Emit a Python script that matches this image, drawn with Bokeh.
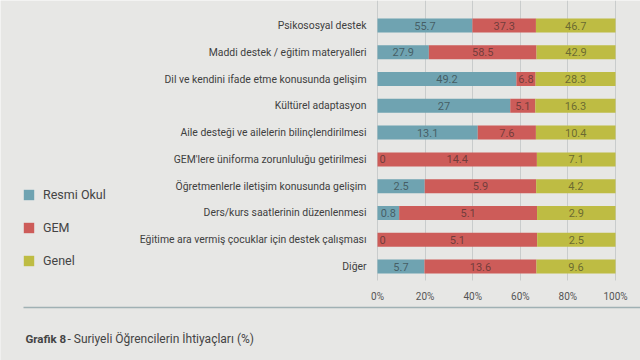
import pandas as pd
from bokeh.plotting import figure
from bokeh.models import (Range1d, Legend, LegendItem, Label, BoxAnnotation,
                          FixedTicker, ColumnDataSource)
from bokeh.core.properties import value
from bokeh.embed import file_html
from bokeh.resources import INLINE

categories = [
    "Psikososyal destek",
    "Maddi destek / eğitim materyalleri",
    "Dil ve kendini ifade etme konusunda gelişim",
    "Kültürel adaptasyon",
    "Aile desteği ve ailelerin bilinçlendirilmesi",
    "GEM'lere üniforma zorunluluğu getirilmesi",
    "Öğretmenlerle iletişim konusunda gelişim",
    "Ders/kurs saatlerinin düzenlenmesi",
    "Eğitime ara vermiş çocuklar için destek çalışması",
    "Diğer",
]
resmi_okul = [55.7, 27.9, 49.2, 27, 13.1, 0, 2.5, 0.8, 0, 5.7]
gem = [37.3, 58.5, 6.8, 5.1, 7.6, 14.4, 5.9, 5.1, 5.1, 13.6]
genel = [46.7, 42.9, 28.3, 16.3, 10.4, 7.1, 4.2, 2.9, 2.5, 9.6]
series_names = ["Resmi Okul", "GEM", "Genel"]
colors = ["#6fa3b1", "#cd5c59", "#bebc43"]
x_ticks = [0, 0.2, 0.4, 0.6, 0.8, 1.0]
x_tick_labels = ["0%", "20%", "40%", "60%", "80%", "100%"]
caption_bold = "Grafik 8"
caption_rest = "- Suriyeli Öğrencilerin İhtiyaçları (%)"

# ---- layout constants (pixels) ----
W, H = 640, 360
X0_PX, X1_PX = 377, 615          # 0% and 100%
TOP_ROW_PX, BOTTOM_ROW_PX = 25, 266
AXIS_PX = 280                    # bottom end of grid / x-axis position
FONT = "Roboto"
BG = "#e7e7e5"

n = len(categories)
xs = X1_PX - X0_PX
pitch = (BOTTOM_ROW_PX - TOP_ROW_PX) / (n - 1)


def xd(px):
    return (px - X0_PX) / xs


def yd(py):
    return (BOTTOM_ROW_PX - py) / pitch


df = pd.DataFrame({"cat": categories, "s0": resmi_okul, "s1": gem, "s2": genel})
df["ypos"] = [n - 1 - i for i in range(n)]
total = df[["s0", "s1", "s2"]].sum(axis=1)
for i in range(3):
    df[f"f{i}"] = df[f"s{i}"] / total
src = ColumnDataSource(df)

p = figure(width=W, height=H, output_backend="svg", toolbar_location=None,
           x_range=Range1d(xd(0), xd(W)), y_range=Range1d(yd(H), yd(0)),
           min_border_left=0, min_border_right=0, min_border_top=0, min_border_bottom=0)
p.background_fill_color = BG
p.border_fill_color = BG
p.outline_line_color = None

renderers = p.hbar_stack(["f0", "f1", "f2"], y="ypos", height=14 / pitch,
                         color=colors, line_color=None, source=src)

# segment labels
lab_nz = {"x": [], "y": [], "t": []}
lab_z = {"x": [], "y": [], "t": []}
for _, row in df.iterrows():
    start = 0.0
    for i in range(3):
        f = row[f"f{i}"]
        v = row[f"s{i}"]
        txt = f"{v:g}"
        if v == 0:
            lab_z["x"].append(start)
            lab_z["y"].append(row["ypos"])
            lab_z["t"].append(txt)
        else:
            lab_nz["x"].append(start + f / 2)
            lab_nz["y"].append(row["ypos"])
            lab_nz["t"].append(txt)
        start += f

p.text(x="x", y="y", text="t", source=ColumnDataSource(lab_nz),
       text_align="center", text_baseline="middle", text_font=value(FONT),
       text_font_size="11px", text_color="#222222", text_alpha=0.55)
p.text(x="x", y="y", text="t", source=ColumnDataSource(lab_z), x_offset=2,
       text_align="left", text_baseline="middle", text_font=value(FONT),
       text_font_size="11px", text_color="#222222", text_alpha=0.55)

# x axis (fixed inside the canvas)
p.xaxis.fixed_location = yd(AXIS_PX)
p.xaxis.ticker = FixedTicker(ticks=x_ticks)
p.xaxis.major_label_overrides = {t: l for t, l in zip(x_ticks, x_tick_labels)}
p.xaxis.axis_line_color = None
p.xaxis.major_tick_line_color = None
p.xaxis.minor_tick_line_color = None
p.xaxis.major_label_text_font = FONT
p.xaxis.major_label_text_font_size = "10px"
p.xaxis.major_label_text_color = "#555555"
p.xaxis.major_label_standoff = 4

# y axis with category names
p.yaxis.fixed_location = 0
p.yaxis.ticker = FixedTicker(ticks=list(df["ypos"]))
p.yaxis.major_label_overrides = {int(y): c for y, c in zip(df["ypos"], categories)}
p.yaxis.axis_line_color = None
p.yaxis.major_tick_line_color = None
p.yaxis.minor_tick_line_color = None
p.yaxis.major_label_text_font = FONT
p.yaxis.major_label_text_font_size = "10.4px"
p.yaxis.major_label_text_color = "#404040"
p.yaxis.major_label_standoff = 5

p.ygrid.grid_line_color = None
p.xgrid.grid_line_color = "#c9cccc"
p.xgrid.grid_line_width = 1

# hide grid below the bars
p.add_layout(BoxAnnotation(top=yd(AXIS_PX), level="underlay", fill_color=BG,
                           fill_alpha=1, line_color=None))

# legend
legend = Legend(items=[LegendItem(label=nm, renderers=[r]) for nm, r in zip(series_names, renderers)],
                location=(22, 92), orientation="vertical",
                glyph_width=13, glyph_height=13, label_height=13,
                spacing=18, padding=0, margin=0, label_standoff=8,
                label_text_font=FONT, label_text_font_size="12.5px",
                label_text_color="#444444",
                background_fill_alpha=0, border_line_color=None)
p.add_layout(legend, "center")

# separator line
p.add_layout(BoxAnnotation(left=xd(23), right=xd(W), top=yd(306.3), bottom=yd(307.8),
                           fill_color="#a0b1b4", fill_alpha=1, line_color=None))

# caption
p.add_layout(Label(x=xd(25), y=yd(338), text=caption_bold, text_font=FONT,
                   text_font_size="11.5px", text_font_style="bold",
                   text_color="#444444", text_baseline="middle"))
p.add_layout(Label(x=xd(67), y=yd(338), text=caption_rest, text_font=FONT,
                   text_font_size="12px", text_color="#444444",
                   text_baseline="middle"))

open("out.html", "w").write(file_html(p, INLINE))
